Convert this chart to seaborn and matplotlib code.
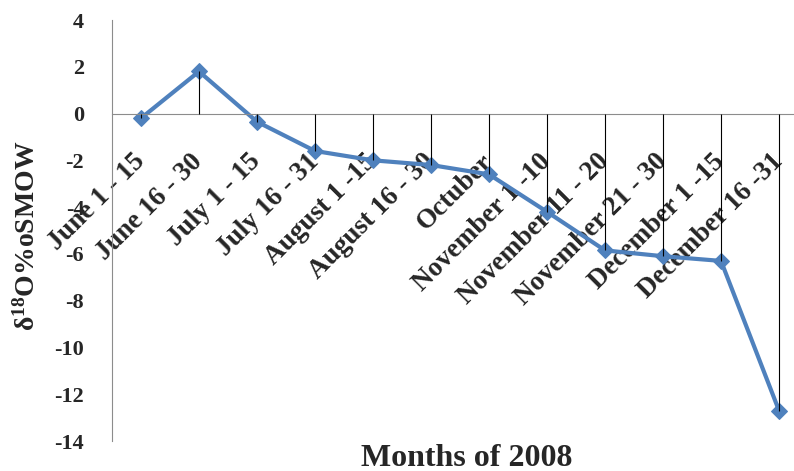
import matplotlib
matplotlib.use("Agg")
import matplotlib.pyplot as plt
import numpy as np
import pandas as pd
import seaborn as sns

# Data
periods = ["June 1 - 15", "June 16 - 30", "July 1 - 15", "July 16 - 31",
           "August 1 -15", "August 16 - 30", "Octuber", "November 1 -10",
           "November 11 - 20", "November 21 - 30", "December 1 -15",
           "December 16 -31"]
delta18o = [-0.2, 1.8, -0.35, -1.6, -2.0, -2.2, -2.6, -4.2, -5.85, -6.1, -6.3, -12.7]
yticks = [4, 2, 0, -2, -4, -6, -8, -10, -12, -14]

sns.set_style("white")
plt.rcParams['font.family'] = ['Liberation Serif', 'DejaVu Serif']
plt.rcParams['font.weight'] = 'bold'
plt.rcParams['mathtext.fontset'] = 'custom'
plt.rcParams['mathtext.rm'] = 'Liberation Serif:bold'
plt.rcParams['mathtext.bf'] = 'Liberation Serif:bold'
plt.rcParams['mathtext.default'] = 'bf'

df = pd.DataFrame({'pos': np.arange(len(periods)), 'value': delta18o})

fig = plt.figure(figsize=(7.94, 4.71), dpi=100)
ax = fig.add_axes([112 / 794, 30 / 471, 696 / 794, 421 / 471])

sns.lineplot(data=df, x='pos', y='value', ax=ax, color='#4F81BD', lw=3,
             marker='D', markersize=8.5, markeredgecolor='#4F81BD')
# drop lines from the axis to each point
ax.vlines(df['pos'], 0, df['value'], color='black', lw=0.8, zorder=3)

ax.set_xlim(-0.5, len(periods) - 0.5)
ax.set_ylim(-14, 4)
ax.set_yticks(yticks)
ax.set_yticklabels([str(v) for v in yticks], fontsize=16, fontweight='bold')

ax.spines['top'].set_visible(False)
ax.spines['right'].set_visible(False)
ax.spines['bottom'].set_position(('data', 0))
ax.spines['bottom'].set_color('#8c8c8c')
ax.spines['left'].set_color('#8c8c8c')
ax.tick_params(axis='y', direction='out', length=5, color='#8c8c8c', pad=15)
ax.tick_params(axis='x', length=0, pad=32)

ax.set_xticks(df['pos'])
ax.set_xticklabels(periods, rotation=45, ha='right', va='center',
                   rotation_mode='anchor', fontsize=19.5, fontweight='bold')
for lab in ax.get_xticklabels():
    lab.set_zorder(5)

ax.set_xlabel('')
ax.set_ylabel('')
fig.text(467 / 794, 1 - 458 / 471, 'Months of 2008', ha='center', va='center',
         fontsize=23, fontweight='bold')
fig.text(27 / 794, 1 - 236 / 471, 'δ$^{18}$O%oSMOW', ha='center', va='center',
         rotation=90, fontsize=20, fontweight='bold')

fig.savefig('out.png', dpi=100)
